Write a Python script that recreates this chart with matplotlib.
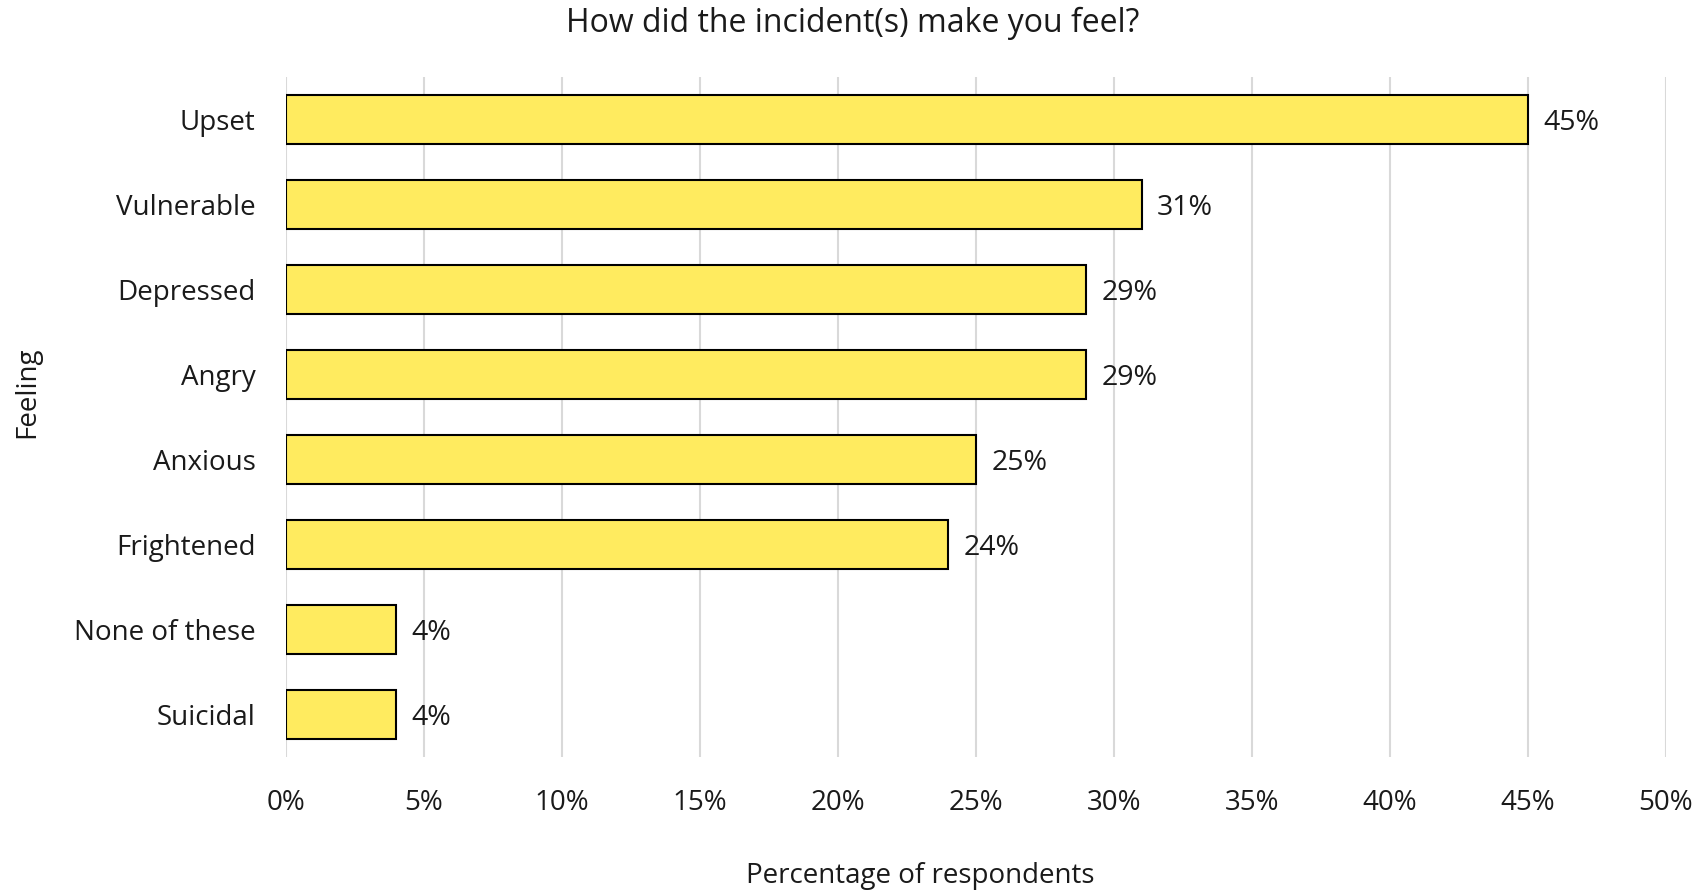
import matplotlib.pyplot as plt
from matplotlib.ticker import MultipleLocator, FuncFormatter

plt.rcParams['font.family'] = ['Open Sans', 'DejaVu Sans']

# Survey responses, top to bottom
feelings = ['Upset', 'Vulnerable', 'Depressed', 'Angry', 'Anxious',
            'Frightened', 'None of these', 'Suicidal']
percent = [45, 31, 29, 29, 25, 24, 4, 4]

bar_color = '#FFEB5F'
grid_color = '#D9D9D9'
text_color = '#1A1A1A'
font_size = 20

fig = plt.figure(figsize=(17.06, 8.93), dpi=100)
ax = fig.add_axes([286 / 1706, 1 - 757 / 893, 1380 / 1706, 680 / 893])

ypos = list(range(len(feelings)))
ax.barh(ypos, percent, height=0.57, color=bar_color, edgecolor='black',
        linewidth=1.5, zorder=3)

# Value labels to the right of each bar
for y, v in zip(ypos, percent):
    ax.text(v + 0.55, y, '%d%%' % v, va='center_baseline', ha='left',
            fontsize=font_size + 0.5, color=text_color)

ax.set_xlim(0, 50)
ax.set_ylim(len(feelings) - 0.5, -0.5)
ax.set_yticks(ypos)
ax.set_yticklabels(feelings)
ax.xaxis.set_major_locator(MultipleLocator(5))
ax.xaxis.set_major_formatter(FuncFormatter(lambda x, _: '%d%%' % x))
ax.grid(axis='x', color=grid_color, linewidth=1.5, zorder=0)
ax.tick_params(axis='both', length=0, labelsize=font_size, colors=text_color)
ax.tick_params(axis='x', pad=23)
ax.tick_params(axis='y', pad=22)
for s in ax.spines.values():
    s.set_visible(False)

fig.text(0.5, 1 - 23 / 893, 'How did the incident(s) make you feel?',
         ha='center', va='center', fontsize=23, color=text_color)
fig.text(920 / 1706, 1 - 876 / 893, 'Percentage of respondents',
         ha='center', va='center', fontsize=font_size, color=text_color)
fig.text(27 / 1706, 1 - 392 / 893, 'Feeling', rotation=90,
         ha='center', va='center', fontsize=font_size, color=text_color)

fig.savefig('out.png', dpi=100)
